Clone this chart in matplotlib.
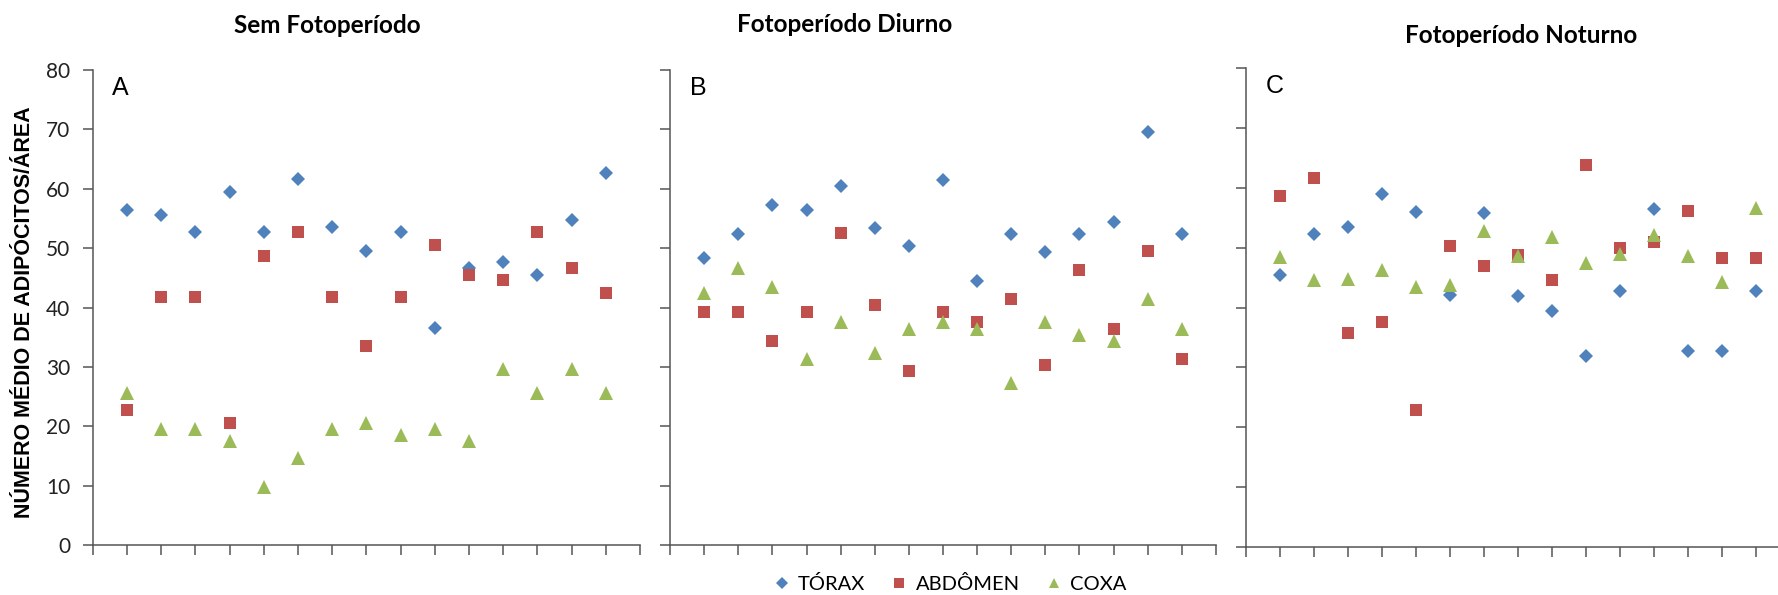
import numpy as np
import matplotlib
matplotlib.use("Agg")
import matplotlib.pyplot as plt

plt.rcParams['font.family'] = ['Lato', 'DejaVu Sans']

# amostras 1..15 em cada painel
amostras = list(range(1, 16))

titulos = ["Sem Fotoperíodo", "Fotoperíodo Diurno", "Fotoperíodo Noturno"]
letras = ["A", "B", "C"]
series = ["TÓRAX", "ABDÔMEN", "COXA"]

# A - sem fotoperiodo
torax_a = [56.5, 55.6, 52.7, 59.5, 52.7, 61.6, 53.5, 49.6, 52.7, 36.6, 46.7, 47.6, 45.5, 54.7, 62.7]
abdomen_a = [22.7, 41.7, 41.7, 20.6, 48.7, 52.7, 41.7, 33.6, 41.7, 50.6, 45.5, 44.6, 52.7, 46.7, 42.5]
coxa_a = [25.6, 19.6, 19.6, 17.5, 9.8, 14.6, 19.6, 20.5, 18.5, 19.6, 17.5, 29.7, 25.6, 29.7, 25.6]

# B - fotoperiodo diurno
torax_b = [48.4, 52.3, 57.3, 56.4, 60.5, 53.4, 50.3, 61.4, 44.4, 52.3, 49.4, 52.3, 54.4, 69.6, 52.3]
abdomen_b = [39.3, 39.3, 34.3, 39.3, 52.6, 40.4, 29.3, 39.3, 37.5, 41.4, 30.4, 46.4, 36.4, 49.6, 31.3]
coxa_b = [42.5, 46.6, 43.4, 31.4, 37.5, 32.4, 36.4, 37.5, 36.4, 27.3, 37.5, 35.4, 34.4, 41.4, 36.4]

# C - fotoperiodo noturno
torax_c = [45.4, 52.3, 53.4, 58.9, 55.9, 42.1, 55.7, 41.9, 39.4, 31.9, 42.8, 56.4, 32.8, 32.8, 42.8]
abdomen_c = [58.6, 61.7, 35.7, 37.5, 22.9, 50.3, 46.9, 48.7, 44.6, 63.8, 49.9, 51.0, 56.2, 48.2, 48.2]
coxa_c = [48.4, 44.6, 44.8, 46.2, 43.4, 43.8, 52.8, 48.6, 51.7, 47.4, 48.9, 52.1, 48.6, 44.3, 56.6]

dados = [
    [torax_a, abdomen_a, coxa_a],
    [torax_b, abdomen_b, coxa_b],
    [torax_c, abdomen_c, coxa_c],
]

cores = ["#4F81BD", "#C0504D", "#9BBB59"]
marcadores = ["D", "s", "^"]
tamanhos = [7.2, 8.3, 9.6]

W, H = 1778, 595
fig = plt.figure(figsize=(W / 100, H / 100), dpi=100)

# posicoes dos paineis em pixels (esquerda, direita, topo, base)
paineis = [(92.7, 640, 70, 545), (670, 1216, 70, 545), (1246, 1790, 68, 547)]
pos_titulos = [(327, 33), (845, 32), (1521, 43)]
cor_eixo = "#555555"

for i, (l, r, t, b) in enumerate(paineis):
    ax = fig.add_axes([l / W, 1 - b / H, (r - l) / W, (b - t) / H])
    for vals, c, m, ms in zip(dados[i], cores, marcadores, tamanhos):
        ax.plot(amostras, vals, linestyle="none", marker=m, color=c,
                markersize=ms, markeredgewidth=0, clip_on=False)
    ax.set_xlim(0, 16)
    ax.set_ylim(0, 80)
    ax.set_xticks(range(17))
    ax.set_xticklabels([])
    ax.set_yticks(range(0, 81, 10))
    if i == 0:
        ax.set_yticklabels([str(v) for v in range(0, 81, 10)], fontsize=15,
                           family=['Liberation Sans Narrow', 'Lato', 'DejaVu Sans'])
    else:
        ax.set_yticklabels([])
    ax.tick_params(axis="both", direction="out", length=7, width=1.1,
                   color=cor_eixo, labelcolor="#222222", pad=9)
    for s in ["top", "right"]:
        ax.spines[s].set_visible(False)
    for s in ["left", "bottom"]:
        ax.spines[s].set_color(cor_eixo)
        ax.spines[s].set_linewidth(1.1)
    ax.text(0.036, 0.987, letras[i], transform=ax.transAxes, ha="left", va="top",
            fontsize=18, family=['Liberation Sans', 'DejaVu Sans'])
    tx, ty = pos_titulos[i]
    fig.text(tx / W, 1 - ty / H, titulos[i], ha="center", va="baseline",
             fontsize=17.5, fontweight="bold")

fig.text(25 / W, 1 - 312 / H, "NÚMERO MÉDIO DE ADIPÓCITOS/ÁREA", rotation=90,
         ha="center", va="center", fontsize=15.5, fontweight="bold",
         family=['Liberation Sans', 'DejaVu Sans'])

handles = [plt.Line2D([], [], linestyle="none", marker=m, color=c, markersize=ms * 0.8,
                      markeredgewidth=0) for c, m, ms in zip(cores, marcadores, tamanhos)]
fig.legend(handles, series, loc="center", bbox_to_anchor=(950 / W, 1 - 584 / H),
           ncol=3, frameon=False, fontsize=14.5, handlelength=0.8, handletextpad=0.4,
           columnspacing=1.3, borderpad=0)

fig.savefig("out.png", dpi=100)
